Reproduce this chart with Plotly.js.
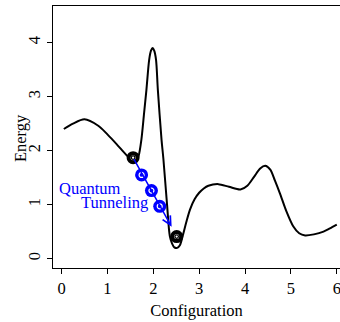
<!DOCTYPE html>
<html>
<head>
<meta charset="utf-8">
<script src="https://cdn.plot.ly/plotly-3.0.1.min.js"></script>
<style>html,body{margin:0;padding:0;background:#fff;}#chart{width:340px;height:322px;}</style>
</head>
<body>
<div id="chart"></div>
<script>
// Energy landscape
var curveX = [0.05, 0.25, 0.5, 0.8, 1.0, 1.2, 1.4, 1.55, 1.62, 1.68, 1.74, 1.8, 1.85, 1.91, 1.95, 1.985, 2.02, 2.06, 2.10, 2.18, 2.22, 2.30, 2.36, 2.41, 2.46, 2.52, 2.58, 2.65, 2.72, 2.8, 2.9, 3.0, 3.1, 3.2, 3.42, 3.65, 3.9, 4.05, 4.2, 4.33, 4.44, 4.55, 4.65, 4.76, 4.9, 5.05, 5.18, 5.31, 5.5, 5.71, 5.85, 6.0];
var curveY = [2.40, 2.50, 2.58, 2.46, 2.30, 2.12, 1.93, 1.81, 1.79, 1.90, 2.20, 2.70, 3.12, 3.68, 3.85, 3.90, 3.85, 3.68, 3.12, 2.20, 1.85, 1.00, 0.42, 0.28, 0.21, 0.20, 0.25, 0.45, 0.68, 0.91, 1.10, 1.22, 1.30, 1.35, 1.38, 1.33, 1.28, 1.35, 1.52, 1.67, 1.72, 1.65, 1.45, 1.21, 0.88, 0.60, 0.47, 0.43, 0.45, 0.50, 0.56, 0.63];

// Classical states (black) and tunneling states (blue)
var stateX = [1.56, 2.51];
var stateY = [1.87, 0.41];
var tunnelX = [1.745, 1.96, 2.14];
var tunnelY = [1.55, 1.26, 0.97];

// Arrow: from first state to tip
var arrowFrom = [1.56, 1.87];
var arrowTo = [2.40, 0.59];

var xTicks = [0, 1, 2, 3, 4, 5, 6];
var yTicks = [0, 1, 2, 3, 4];

var serif = "'Liberation Serif', 'DejaVu Serif', serif";
var fs = 16.5;

var traces = [
  {x: curveX, y: curveY, mode: 'lines', type: 'scatter', line: {color: 'black', width: 2, shape: 'spline', smoothing: 0.8}, hoverinfo: 'skip', showlegend: false},
  {x: stateX, y: stateY, mode: 'markers', type: 'scatter', marker: {symbol: 'circle', size: 9, color: 'white', line: {color: 'black', width: 4}}, showlegend: false},
  {x: stateX, y: stateY, mode: 'markers', type: 'scatter', marker: {symbol: 'circle-open', size: 3.5, color: 'black', line: {color: 'black', width: 1.2}}, showlegend: false},
  {x: tunnelX, y: tunnelY, mode: 'markers', type: 'scatter', marker: {symbol: 'circle', size: 13, color: '#0000ff', line: {width: 0}}, showlegend: false},
  {x: tunnelX, y: tunnelY, mode: 'markers', type: 'scatter', marker: {symbol: 'circle-open', size: 5, color: 'white', line: {color: 'white', width: 1.2}}, showlegend: false}
];

var layout = {
  width: 340, height: 322,
  margin: {l: 53, r: 0, t: 6, b: 54},
  paper_bgcolor: 'white', plot_bgcolor: 'white',
  font: {family: serif, size: fs, color: 'black'},
  showlegend: false,
  xaxis: {
    range: [-0.186, 6.07], tickvals: xTicks, ticktext: xTicks.map(String),
    ticks: 'outside', ticklen: 5, tickwidth: 1, tickcolor: 'black',
    ticklabeloverflow: 'allow',
    showline: true, linecolor: 'black', linewidth: 1.3, mirror: true,
    showgrid: false, zeroline: false,
    tickfont: {family: serif, size: fs, color: 'black'},
    title: {text: 'Configuration', font: {family: serif, size: fs, color: 'black'}, standoff: 7}
  },
  yaxis: {
    range: [-0.172, 4.676], tickvals: yTicks, ticktext: yTicks.map(String),
    ticks: 'outside', ticklen: 5, tickwidth: 1, tickcolor: 'black', tickangle: -90,
    showline: true, linecolor: 'black', linewidth: 1.3,
    showgrid: false, zeroline: false,
    tickfont: {family: serif, size: fs, color: 'black'}
  },
  annotations: [
    {x: -0.115, y: 0.496, xref: 'paper', yref: 'paper', text: 'Energy', textangle: -90, showarrow: false,
     xanchor: 'center', yanchor: 'middle', font: {family: serif, size: fs, color: 'black'}},
    {x: arrowTo[0], y: arrowTo[1], ax: arrowFrom[0], ay: arrowFrom[1], xref: 'x', yref: 'y', axref: 'x', ayref: 'y',
     text: '', showarrow: true, arrowhead: 5, arrowsize: 1.15, arrowwidth: 1.5, arrowcolor: '#0000ff', standoff: 0, startstandoff: 0},
    {x: 0.63, y: 1.29, xref: 'x', yref: 'y', text: 'Quantum', showarrow: false, xanchor: 'center', yanchor: 'middle',
     font: {family: serif, size: fs, color: '#0000ff'}},
    {x: 1.155, y: 1.035, xref: 'x', yref: 'y', text: 'Tunneling', showarrow: false, xanchor: 'center', yanchor: 'middle',
     font: {family: serif, size: fs, color: '#0000ff'}}
  ]
};

Plotly.newPlot('chart', traces, layout, {displayModeBar: false, staticPlot: true});
</script>
</body>
</html>
